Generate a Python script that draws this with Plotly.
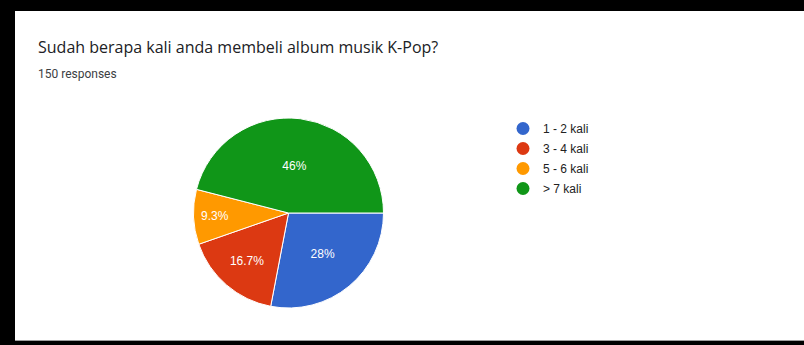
import plotly.graph_objects as go

W, H = 804, 345

categories = ["1 - 2 kali", "3 - 4 kali", "5 - 6 kali", "> 7 kali"]
counts = [42, 25, 14, 69]
pct_labels = ["28%", "16.7%", "9.3%", "46%"]
colors = ["#3366cc", "#dc3912", "#ff9900", "#109618"]
title_text = "Sudah berapa kali anda membeli album musik K-Pop?"
subtitle_text = "150 responses"

# pie geometry in pixels
cx, cy, r = 288.5, 213, 95

fig = go.Figure()
fig.add_trace(go.Pie(
    labels=categories, values=counts, text=pct_labels,
    textinfo="text", textposition="inside", insidetextorientation="horizontal",
    textfont=dict(family="Arial, Liberation Sans", size=12, color="white"),
    marker=dict(colors=colors, line=dict(color="white", width=1)),
    sort=False, direction="clockwise", rotation=90,
    showlegend=False, hoverinfo="label+percent",
    domain=dict(x=[(cx - r) / W, (cx + r) / W], y=[(H - cy - r) / H, (H - cy + r) / H]),
))

for name, col in zip(categories, colors):
    fig.add_trace(go.Scatter(
        x=[None], y=[None], mode="markers", name=name, legendgroup=name,
        marker=dict(symbol="circle", size=13, color=col),
        showlegend=True,
    ))

fig.update_layout(
    width=W, height=H,
    margin=dict(l=0, r=0, t=0, b=0),
    paper_bgcolor="black", plot_bgcolor="rgba(0,0,0,0)",
    xaxis=dict(visible=False), yaxis=dict(visible=False),
    legend=dict(
        x=503 / W, y=(H - 114) / H, xanchor="left", yanchor="top",
        font=dict(family="Arial, Liberation Sans", size=12, color="#222222"),
        bgcolor="rgba(0,0,0,0)", tracegroupgap=1, itemwidth=30,
    ),
    shapes=[
        dict(type="rect", xref="paper", yref="paper", layer="below",
             x0=15 / W, x1=1.01, y0=(H - 340) / H, y1=(H - 11) / H,
             fillcolor="white", line=dict(width=0)),
        dict(type="line", xref="paper", yref="paper", layer="below",
             x0=15 / W, x1=1.01, y0=(H - 340.5) / H, y1=(H - 340.5) / H,
             line=dict(color="#9e9e9e", width=1)),
    ],
    annotations=[
        dict(text=title_text, x=36 / W, y=(H - 47) / H, xref="paper", yref="paper",
             xanchor="left", yanchor="middle", showarrow=False,
             font=dict(family="Open Sans, Roboto", size=16, color="#202124")),
        dict(text=subtitle_text, x=36 / W, y=(H - 74) / H, xref="paper", yref="paper",
             xanchor="left", yanchor="middle", showarrow=False,
             font=dict(family="Roboto, Arial", size=12, color="#3c4043")),
    ],
)

fig.write_html("out.html")
